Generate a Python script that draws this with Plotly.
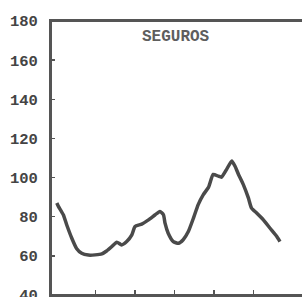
import plotly.graph_objects as go

# time axis (years, ticks at whole years) and index values
x_years = [0.02, 0.06, 0.185, 0.27, 0.40, 0.52, 0.65, 0.82, 0.99, 1.16, 1.28, 1.41,
           1.54, 1.66, 1.79, 1.92, 2.00, 2.17, 2.34, 2.51, 2.63, 2.72, 2.76, 2.84,
           2.97, 3.10, 3.22, 3.35, 3.48, 3.60, 3.73, 3.86, 3.98, 4.11, 4.19, 4.32,
           4.45, 4.53, 4.62, 4.74, 4.87, 4.95, 5.08, 5.25, 5.42, 5.59, 5.67]
seguros = [87, 85.3, 81, 75.9, 69, 63.8, 61.3, 60.4, 60.5, 61, 62.5, 64.7,
           67, 65.6, 67.3, 70.7, 75, 76.2, 78.4, 81, 82.7, 81, 76.7, 71.6,
           67.3, 66.4, 68.2, 72.4, 79.3, 86.2, 91.3, 95, 101.6, 100.7, 100.2, 104.2,
           108.5, 105.9, 101.6, 96.5, 89.6, 84.4, 81.9, 78.4, 74.1, 69.9, 67.3]

y_ticks = [40, 60, 80, 100, 120, 140, 160, 180]
x_ticks = [1, 2, 3, 4, 5]
title_text = "SEGUROS"

font_family = "Liberation Mono, Courier New, monospace"
axis_color = "#555555"

fig = go.Figure()
fig.add_trace(go.Scatter(
    x=x_years, y=seguros, mode="lines",
    line=dict(color="#4a4a4a", width=3.5, shape="spline", smoothing=0.5),
    hoverinfo="skip", showlegend=False,
))

fig.add_annotation(
    text="<b>" + title_text + "</b>", x=0.5, y=0.94, xref="paper", yref="paper",
    xanchor="center", yanchor="middle", showarrow=False,
    font=dict(family=font_family, size=16, color="#5e5e5e"),
    xshift=-1,
)

# panel frame (top edge of the box)
fig.add_shape(type="rect", xref="paper", yref="paper", x0=0, x1=1.05, y0=0, y1=1,
              layer="above", fillcolor="rgba(0,0,0,0)",
              line=dict(color=axis_color, width=2))

fig.update_layout(
    width=302, height=297,
    margin=dict(l=51, r=0, t=21, b=2, autoexpand=False),
    paper_bgcolor="white", plot_bgcolor="rgba(0,0,0,0)",
    xaxis=dict(
        range=[-0.127, 6.228], tickvals=x_ticks, ticktext=["" for _ in x_ticks],
        ticks="inside", ticklen=5, tickwidth=1.5, tickcolor=axis_color,
        showgrid=False, zeroline=False, automargin=False,
        showline=True, linecolor=axis_color, linewidth=2, mirror=True,
    ),
    yaxis=dict(
        range=[40, 180], tickvals=y_ticks, ticktext=[str(v) for v in y_ticks],
        ticks="inside", ticklen=4, tickwidth=1.5, tickcolor=axis_color,
        showgrid=False, zeroline=False, automargin=False,
        showline=True, linecolor=axis_color, linewidth=2,
        tickfont=dict(family=font_family, size=15.5, color="#444444", weight="bold"),
        ticklabelstandoff=8, ticklabeloverflow="allow",
    ),
)

fig.write_html(
    "out.html",
    config={"displayModeBar": False, "staticPlot": True},
    post_script="document.body.style.margin='0';document.body.style.overflow='hidden';",
)
